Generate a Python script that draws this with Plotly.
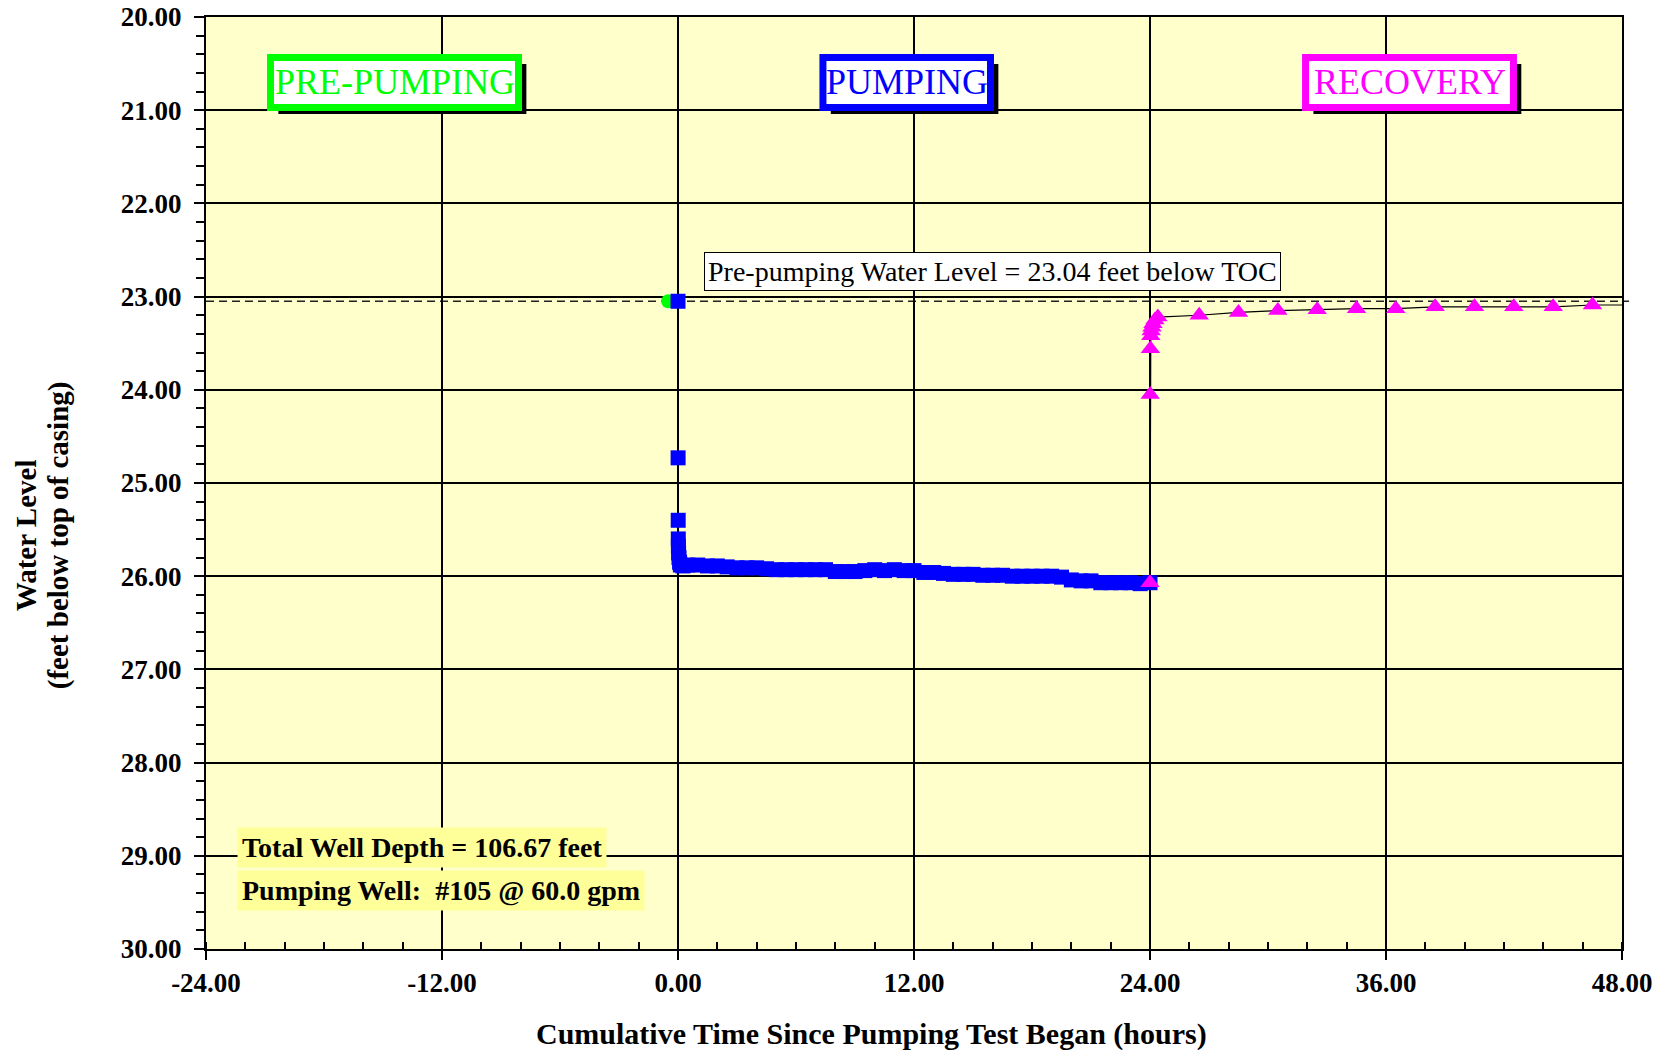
import plotly.graph_objects as go

# ---------------- data ----------------
pre_time = [-0.5]
pre_level = [23.05]

pump_time = [0.0, 0.005, 0.01, 0.015, 0.02, 0.03, 0.05, 0.08, 0.12, 0.25,
             0.5, 1.0, 1.5, 2.0, 2.5, 3.0, 3.5, 4.0, 4.5, 5.0, 5.5, 6.0, 6.5,
             7.0, 7.5, 8.0, 8.5, 9.0, 9.5, 10.0, 10.5, 11.0, 11.5, 12.0, 12.5,
             13.0, 13.5, 14.0, 14.5, 15.0, 15.5, 16.0, 16.5, 17.0, 17.5, 18.0,
             18.5, 19.0, 19.5, 20.0, 20.5, 21.0, 21.5, 22.0, 22.5, 23.0, 23.5, 24.0]
pump_level = [23.05, 24.73, 25.40, 25.60, 25.68, 25.75, 25.80, 25.85, 25.88, 25.89,
              25.88, 25.88, 25.89, 25.89, 25.90, 25.91, 25.91, 25.91, 25.92, 25.93,
              25.93, 25.93, 25.93, 25.93, 25.93, 25.95, 25.95, 25.95, 25.94, 25.93,
              25.94, 25.93, 25.94, 25.94, 25.96, 25.96, 25.97, 25.98, 25.98, 25.98,
              25.99, 25.99, 25.99, 26.00, 26.00, 26.00, 26.00, 26.00, 26.01, 26.04,
              26.05, 26.05, 26.07, 26.07, 26.07, 26.07, 26.08, 26.07]

rec_time = [24.0, 24.01, 24.02, 24.04, 24.06, 24.1, 24.15, 24.25, 24.4,
            26.5, 28.5, 30.5, 32.5, 34.5, 36.5, 38.5, 40.5, 42.5, 44.5, 46.5]
rec_level = [26.07, 24.05, 23.56, 23.42, 23.37, 23.33, 23.29, 23.25, 23.22,
             23.20, 23.17, 23.15, 23.14, 23.13, 23.13, 23.11, 23.11, 23.11, 23.11, 23.09]

# recovery trend line carried on to the right edge of the chart
trend_time = [46.5, 48.3]
trend_level = [23.09, 23.09]

static_level = 23.05
x_ticks = [-24, -12, 0, 12, 24, 36, 48]
x_tick_labels = ["-24.00", "-12.00", "0.00", "12.00", "24.00", "36.00", "48.00"]
y_ticks = [20, 21, 22, 23, 24, 25, 26, 27, 28, 29, 30]
y_tick_labels = ["20.00", "21.00", "22.00", "23.00", "24.00", "25.00",
                 "26.00", "27.00", "28.00", "29.00", "30.00"]

phase_labels = ["PRE-PUMPING", "PUMPING", "RECOVERY"]
phase_colors = ["#00FF00", "#0000FF", "#FF00FF"]

SERIF = "Liberation Serif"

fig = go.Figure()

fig.add_trace(go.Scatter(x=pre_time, y=pre_level, mode="markers",
                         marker=dict(symbol="circle", size=14, color="#00FF00"),
                         showlegend=False))
fig.add_trace(go.Scatter(x=trend_time, y=trend_level, mode="lines",
                         line=dict(color="black", width=1.2),
                         showlegend=False, cliponaxis=False))
fig.add_trace(go.Scatter(x=pump_time, y=pump_level, mode="lines+markers",
                         line=dict(color="black", width=1),
                         marker=dict(symbol="square", size=15, color="#0000FF"),
                         showlegend=False))
fig.add_trace(go.Scatter(x=rec_time, y=rec_level, mode="lines+markers",
                         line=dict(color="black", width=1.2),
                         marker=dict(symbol="triangle-up", size=17, color="#FF00FF"),
                         showlegend=False))

shapes = []
# dashed static level line
shapes.append(dict(type="line", xref="paper", yref="y", x0=0, x1=1.005,
                   y0=static_level, y1=static_level,
                   line=dict(color="#222222", width=1.5, dash="8px,5px"), layer="below"))

# phase label boxes (x in hours, y in feet)
box_x = [(-20.72, -8.11), (7.37, 15.89), (31.91, 42.48)]
by0, by1 = 20.434, 20.970
for (x0, x1), col in zip(box_x, phase_colors):
    shapes.append(dict(type="rect", xref="x", yref="y",
                       x0=x0 + 0.4, x1=x1 + 0.4, y0=by0 + 0.07, y1=by1 + 0.07,
                       fillcolor="black", line=dict(width=0), layer="above"))
    shapes.append(dict(type="rect", xref="x", yref="y",
                       x0=x0, x1=x1, y0=by0, y1=by1,
                       fillcolor="white", line=dict(color=col, width=7), layer="above"))

annotations = []
for (x0, x1), txt, col in zip(box_x, phase_labels, phase_colors):
    annotations.append(dict(x=(x0 + x1) / 2, y=(by0 + by1) / 2, xref="x", yref="y",
                            text=txt, showarrow=False,
                            font=dict(family=SERIF, size=36, color=col)))

annotations.append(dict(x=16.0, y=22.73, xref="x", yref="y",
                        text="Pre-pumping Water Level = 23.04 feet below TOC",
                        showarrow=False, bgcolor="white", bordercolor="black",
                        borderwidth=1, borderpad=3,
                        font=dict(family=SERIF, size=28, color="black")))

annotations.append(dict(x=-22.44, y=28.907, xref="x", yref="y", xanchor="left",
                        text="Total Well Depth = 106.67 feet", showarrow=False,
                        bgcolor="#FFFF99", borderpad=4,
                        font=dict(family=SERIF, size=28, color="black", weight="bold")))
annotations.append(dict(x=-22.44, y=29.367, xref="x", yref="y", xanchor="left",
                        text="Pumping Well:  #105 @ 60.0 gpm", showarrow=False,
                        bgcolor="#FFFF99", borderpad=4,
                        font=dict(family=SERIF, size=28, color="black", weight="bold")))

# axis titles (two separate lines for the y title to control spacing)
annotations.append(dict(xref="paper", yref="paper", x=0, y=0.444, xshift=-180,
                        xanchor="center", yanchor="middle",
                        text="Water Level", textangle=-90, showarrow=False,
                        font=dict(family=SERIF, size=29, color="black", weight="bold")))
annotations.append(dict(xref="paper", yref="paper", x=0, y=0.444, xshift=-148,
                        xanchor="center", yanchor="middle",
                        text="(feet below top of casing)", textangle=-90, showarrow=False,
                        font=dict(family=SERIF, size=29, color="black", weight="bold")))
annotations.append(dict(xref="paper", yref="paper", x=0.47, y=0, yshift=-85,
                        xanchor="center", yanchor="middle",
                        text="Cumulative Time Since Pumping Test Began (hours)",
                        showarrow=False,
                        font=dict(family=SERIF, size=30, color="black", weight="bold")))

fig.update_layout(
    width=1671, height=1051,
    margin=dict(l=206, r=49, t=17, b=102),
    paper_bgcolor="white", plot_bgcolor="#FFFFCC",
    shapes=shapes, annotations=annotations,
    showlegend=False,
)

fig.update_xaxes(range=[-24, 48], tickvals=x_ticks, ticktext=x_tick_labels,
                 automargin=False, ticklabeloverflow="allow",
                 showgrid=True, gridcolor="black", gridwidth=1.5,
                 showline=True, linecolor="black", linewidth=2, mirror=True,
                 ticks="outside", ticklen=9, tickcolor="black", tickwidth=1.5,
                 ticklabelstandoff=0, zeroline=False,
                 minor=dict(ticks="inside", dtick=2, ticklen=7, tickcolor="black",
                            tickwidth=1.5, showgrid=False),
                 tickfont=dict(family=SERIF, size=27, color="black", weight="bold"))
fig.update_yaxes(range=[30, 20], tickvals=y_ticks, ticktext=y_tick_labels,
                 automargin=False, ticklabeloverflow="allow",
                 showgrid=True, gridcolor="black", gridwidth=1.5,
                 showline=True, linecolor="black", linewidth=2, mirror=True,
                 ticks="outside", ticklen=10, tickcolor="black", tickwidth=1.5,
                 ticklabelstandoff=7, zeroline=False,
                 minor=dict(ticks="outside", dtick=0.2, ticklen=8, tickcolor="black",
                            tickwidth=1.5, showgrid=False),
                 tickfont=dict(family=SERIF, size=27, color="black", weight="bold"))

# remove the browser's default 8px body margin so the figure fills the window
fig.write_html("out.html", config={"displayModeBar": False},
               post_script="document.body.style.margin='0';document.body.style.overflow='hidden';")
